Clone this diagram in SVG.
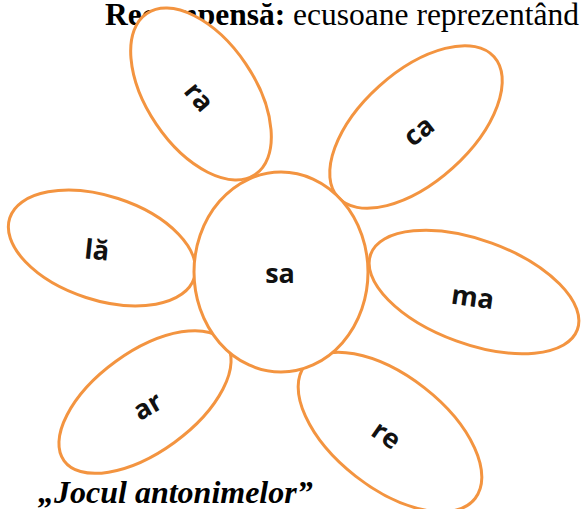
<svg xmlns="http://www.w3.org/2000/svg" width="581" height="509" viewBox="0 0 581 509">
<style>
.petal{fill:#fff;stroke:#F39440;stroke-width:3}
.lbl{font-family:"Open Sans",Lato,"Liberation Sans",sans-serif;font-size:27px;font-weight:700;fill:#111;text-anchor:middle;dominant-baseline:central}
.hdr{font-family:"Liberation Serif","Times New Roman",serif;fill:#000}
</style>
<rect width="581" height="509" fill="#fff"/>
<text class="hdr" x="105" y="25" font-size="31.5"><tspan font-weight="bold">Recompensă:</tspan> ecusoane reprezentând</text>
<text class="hdr" x="38" y="503" font-size="32" font-weight="bold" font-style="italic">„Jocul antonimelor”</text>
<g id="petal-ra">
<ellipse class="petal" cx="201" cy="94" rx="97" ry="54" transform="rotate(56 201 94)"/>
<text class="lbl" x="200" y="96" transform="rotate(50 200 96)">ra</text>
</g>
<g id="petal-ca">
<ellipse class="petal" cx="416" cy="127" rx="105" ry="55" transform="rotate(-42 416 127)"/>
<text class="lbl" x="418" y="130" transform="rotate(-38 418 130)">ca</text>
</g>
<g id="petal-la">
<ellipse class="petal" cx="102" cy="248" rx="97" ry="52" transform="rotate(18 102 248)"/>
<text class="lbl" x="97" y="249" transform="rotate(6 97 249)">lă</text>
</g>
<g id="petal-ma">
<ellipse class="petal" cx="474" cy="292" rx="110" ry="52" transform="rotate(20 474 292)"/>
<text class="lbl" x="473" y="296" transform="rotate(8 473 296)">ma</text>
</g>
<g id="petal-ar">
<ellipse class="petal" cx="145" cy="402" rx="100" ry="50" transform="rotate(-36 145 402)"/>
<text class="lbl" x="147" y="405" transform="rotate(-30 147 405)">ar</text>
</g>
<g id="petal-re">
<ellipse class="petal" cx="390" cy="432" rx="108" ry="56" transform="rotate(38 390 432)"/>
<text class="lbl" x="387" y="434" transform="rotate(35 387 434)">re</text>
</g>
<g id="center-sa">
<ellipse class="petal" cx="281" cy="272" rx="87" ry="100"/>
<text class="lbl" x="280" y="272">sa</text>
</g>
</svg>
